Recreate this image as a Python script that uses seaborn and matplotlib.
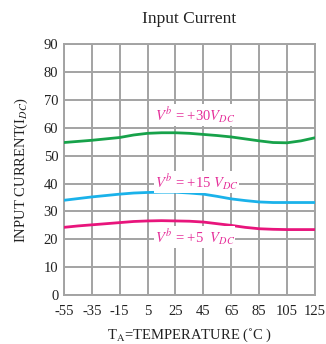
"""Input current vs temperature chart."""
import matplotlib
matplotlib.use("Agg")
from matplotlib import pyplot as plt
import pandas as pd
import seaborn as sns

temperature = [-55, -45, -35, -25, -15, -5, 5, 15, 25, 35,
               45, 55, 65, 75, 85, 95, 105, 115, 125]
current_30v = [54.7, 55.1, 55.5, 56.0, 56.5, 57.4, 58.0, 58.2, 58.2, 58.0,
               57.6, 57.2, 56.7, 56.0, 55.3, 54.7, 54.6, 55.3, 56.4]
current_15v = [34.0, 34.6, 35.2, 35.7, 36.2, 36.6, 36.8, 36.9, 36.9, 36.6,
               36.2, 35.4, 34.5, 33.9, 33.4, 33.2, 33.2, 33.2, 33.2]
current_5v = [24.3, 24.8, 25.2, 25.6, 26.0, 26.4, 26.6, 26.7, 26.6, 26.5,
              26.2, 25.6, 25.0, 24.3, 23.8, 23.6, 23.5, 23.5, 23.5]

series_names = ["+30", "+15", "+5"]
series_colors = ["#17a24a", "#1ab2ea", "#e8157c"]
label_texts = [r"$V^b$ = +30$V_{DC}$", r"$V^b$ = +15 $V_{DC}$",
               r"$V^b$ = +5  $V_{DC}$"]
label_pos = [(10, 64.5), (10, 40.5), (10, 20.8)]

x_ticks = list(range(-55, 126, 20))
y_ticks = list(range(0, 91, 10))

df = pd.DataFrame({
    "Temperature": temperature * 3,
    "Current": current_30v + current_15v + current_5v,
    "Supply": [n for n in series_names for _ in temperature],
})

sns.set_theme(style="white")
plt.rcParams["font.family"] = ["Liberation Serif", "DejaVu Serif"]
plt.rcParams["mathtext.fontset"] = "stix"
plt.rcParams["axes.unicode_minus"] = False

fig = plt.figure(figsize=(3.26, 3.44), dpi=100)
ax = fig.add_axes([0.196, 0.142, 0.77, 0.73])

sns.lineplot(
    data=df, x="Temperature", y="Current", hue="Supply",
    palette=dict(zip(series_names, series_colors)),
    linewidth=2, legend=False, ax=ax, zorder=3,
)

ax.set_xlim(-55, 125)
ax.set_ylim(0, 90)
ax.set_xticks(x_ticks)
ax.set_yticks(y_ticks)
ax.grid(True, color="#a3a3a3", linewidth=1.4)
for spine in ax.spines.values():
    spine.set_color("#a3a3a3")
    spine.set_linewidth(1.4)
ax.tick_params(length=0, labelsize=10.5, colors="#222222")
ax.tick_params(axis="x", pad=7)
ax.tick_params(axis="y", pad=4)

for text, (tx, ty) in zip(label_texts, label_pos):
    ax.text(tx, ty, text, color="#e5309a", fontsize=10.5, ha="left",
            va="center", zorder=4,
            bbox=dict(facecolor="white", edgecolor="none", pad=0.5))

ax.set_title("Input Current", fontsize=12.5, color="#222222", pad=15)
ax.set_xlabel(r"T$_\mathrm{A}$=TEMPERATURE (˚C )", fontsize=10.5,
              color="#222222", labelpad=6.5)
ax.set_ylabel(r"INPUT CURRENT(I$_{DC}$)", fontsize=10.5, color="#222222",
              labelpad=10)

fig.savefig("out.png", dpi=100)
